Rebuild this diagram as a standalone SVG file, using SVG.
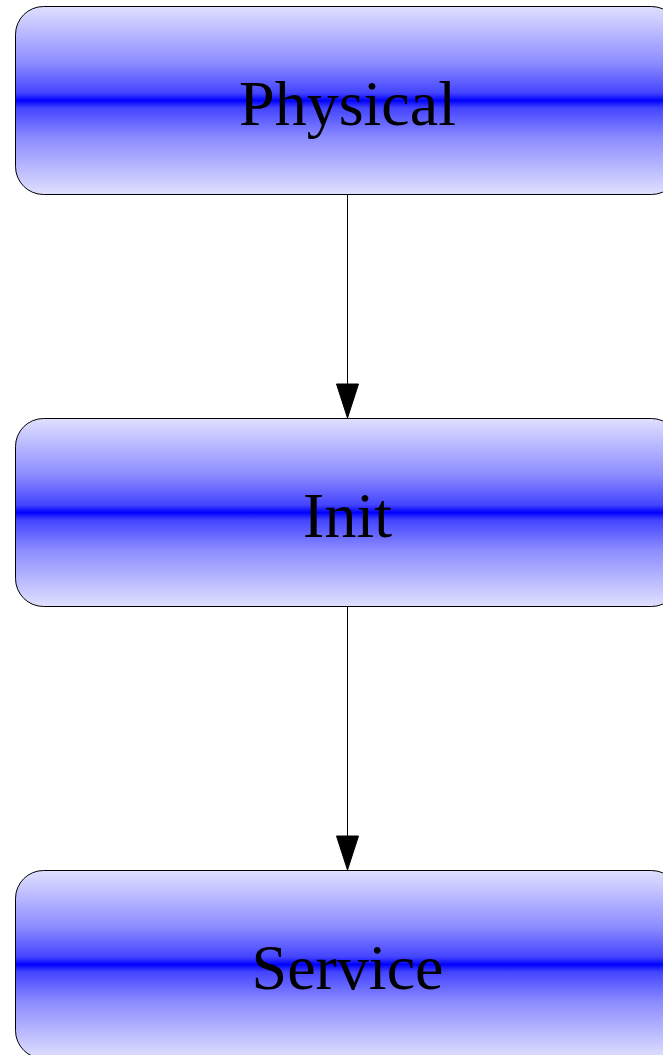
<svg xmlns="http://www.w3.org/2000/svg" width="663" height="1055" viewBox="0 0 663 1055">
<style>
.box{stroke:#000;stroke-width:1;fill:url(#g)}
.lbl{font-family:"Liberation Serif","Times New Roman",serif;font-size:64px;fill:#000;text-anchor:middle}
.edge{stroke:#000;stroke-width:1;fill:none}
.head{fill:#000;stroke:#000;stroke-width:1}
</style>
<defs>
<linearGradient id="g" x1="0" y1="0" x2="0" y2="1">
<stop offset="0" stop-color="#e0e0ff"/>
<stop offset="0.3" stop-color="#8c8cff"/>
<stop offset="0.46" stop-color="#4444ff"/>
<stop offset="0.5" stop-color="#0000ff"/>
<stop offset="0.54" stop-color="#4444ff"/>
<stop offset="0.7" stop-color="#8c8cff"/>
<stop offset="1" stop-color="#e0e0ff"/>
</linearGradient>
</defs>
<g id="connectors">
<path class="edge" d="M347.5,194.5 L347.5,384"/>
<path class="head" d="M336.5,384 L358.5,384 L347.5,418 Z"/>
<path class="edge" d="M347.5,606.5 L347.5,836"/>
<path class="head" d="M336.5,836 L358.5,836 L347.5,870 Z"/>
</g>
<g id="physical">
<rect class="box" x="15.5" y="6.5" width="664" height="188" rx="28" ry="28"/>
<text class="lbl" x="347.5" y="125">Physical</text>
</g>
<g id="init">
<rect class="box" x="15.5" y="418.5" width="664" height="188" rx="28" ry="28"/>
<text class="lbl" x="347.5" y="537">Init</text>
</g>
<g id="service">
<rect class="box" x="15.5" y="870.5" width="664" height="188" rx="28" ry="28"/>
<text class="lbl" x="347.5" y="989">Service</text>
</g>
</svg>
